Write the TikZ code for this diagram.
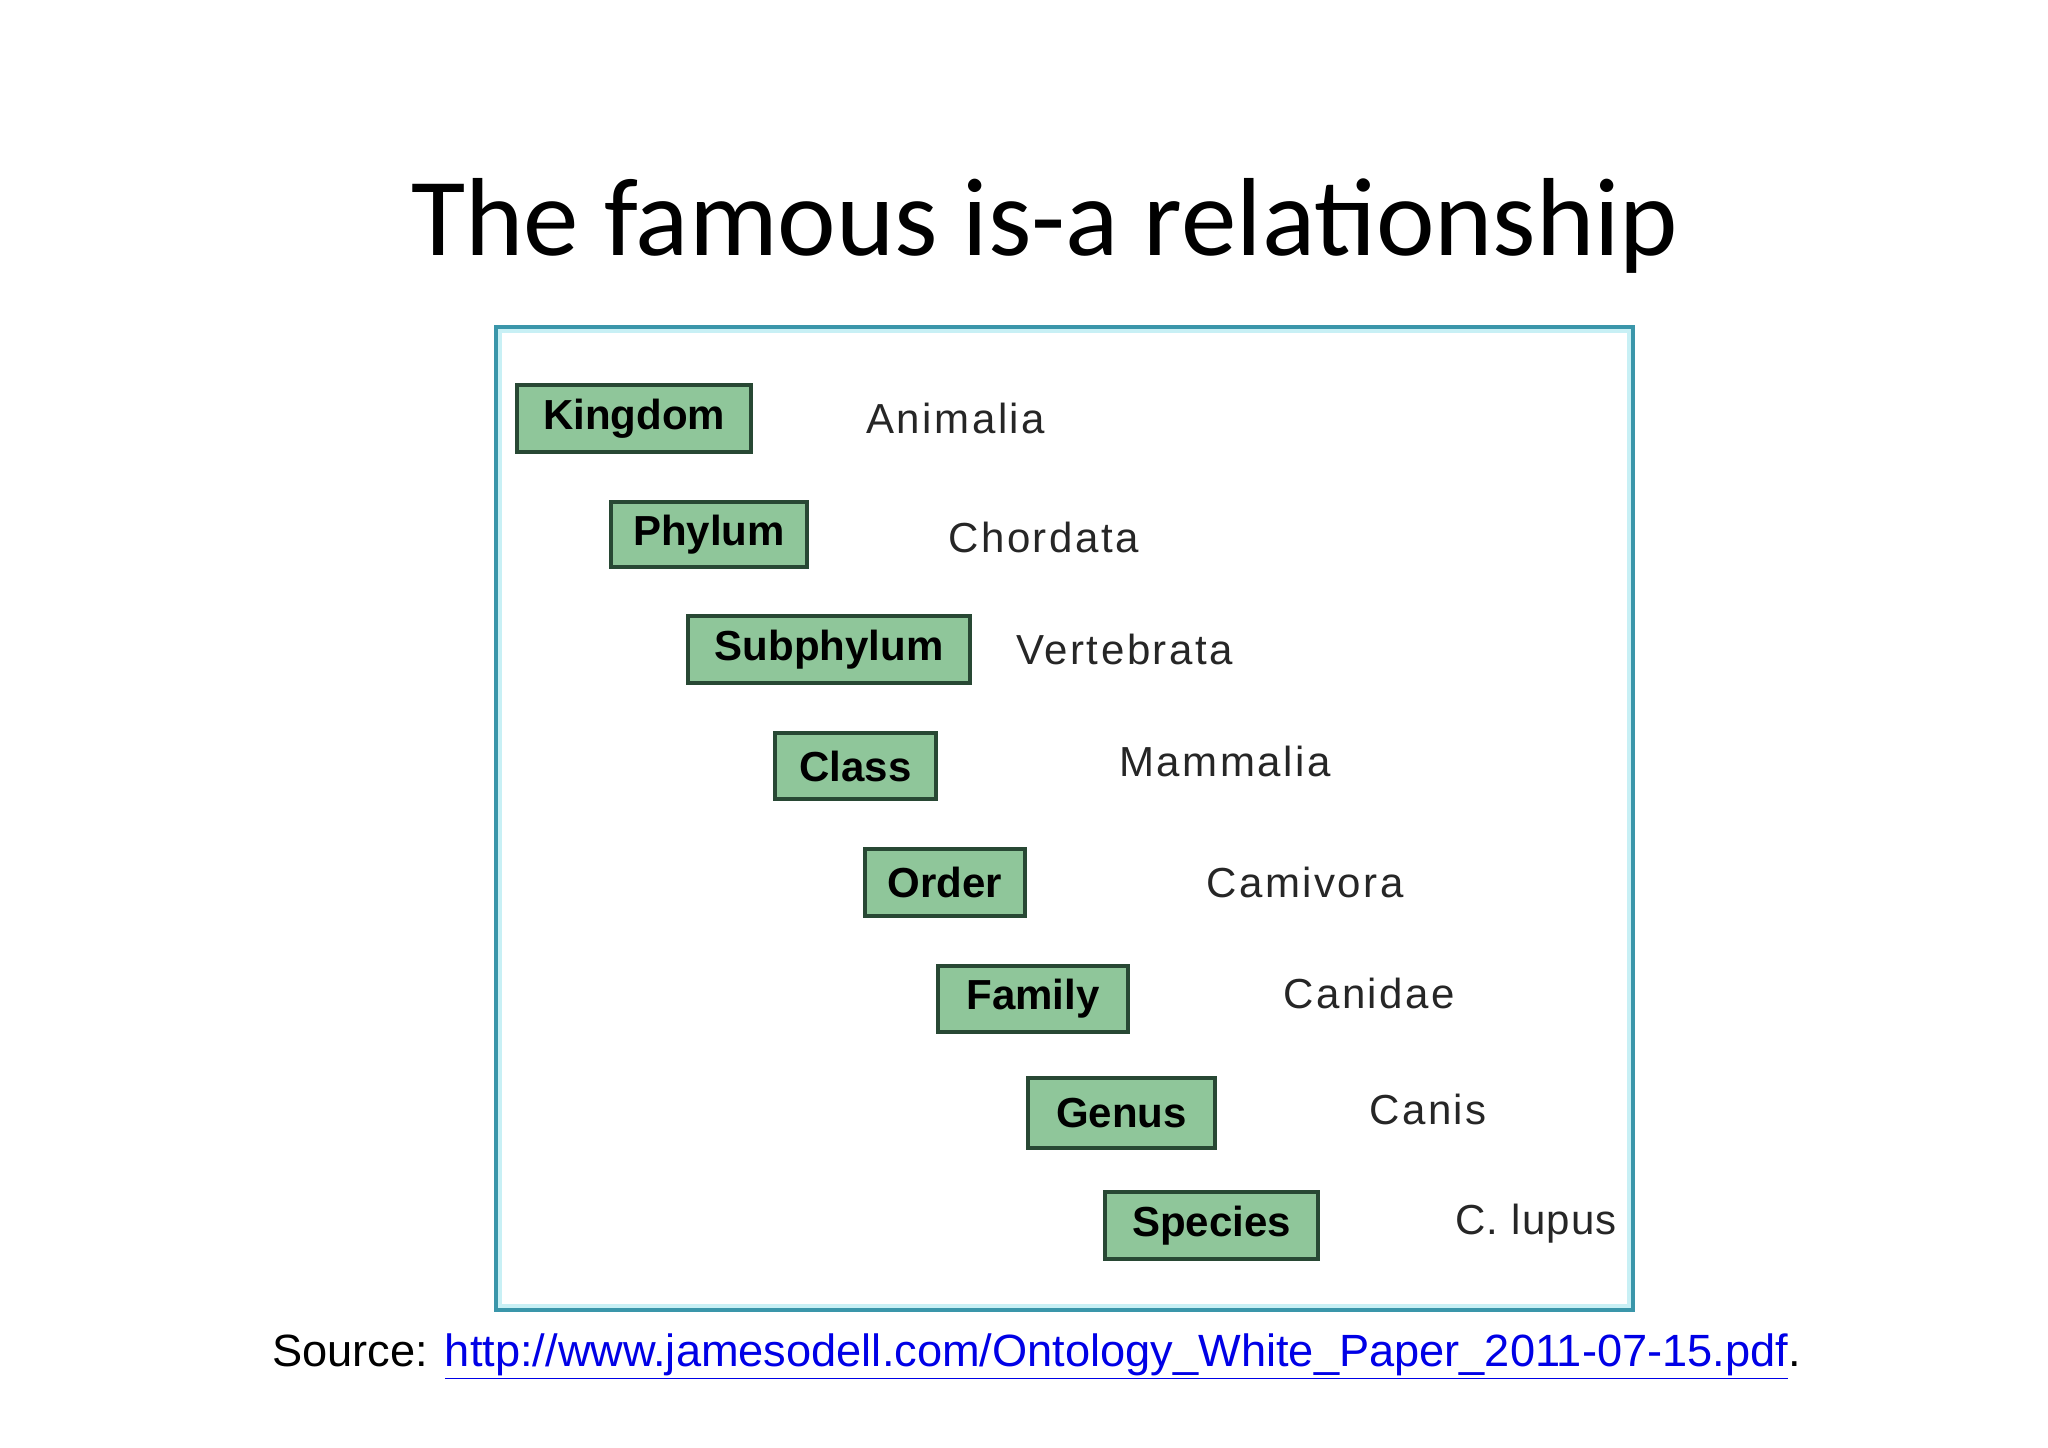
\documentclass[tikz,border=0pt]{standalone}
\usepackage{fontspec}
\setmainfont{Liberation Sans}
\newfontfamily\titlefont{Carlito}
\definecolor{boxgreen}{RGB}{143,198,154}
\definecolor{boxborder}{RGB}{40,72,52}
\definecolor{frameteal}{RGB}{58,150,170}
\definecolor{framelight}{RGB}{200,240,245}
\definecolor{linkblue}{RGB}{0,0,230}
\tikzset{
  taxbox/.style={draw=boxborder, line width=1.6pt, fill=boxgreen, inner sep=0pt,
    font=\bfseries\fontsize{21}{25}\selectfont, text=black},
  taxlabel/.style={anchor=west, inner sep=0pt, font=\fontsize{21}{25}\selectfont\addfontfeatures{LetterSpace=6}, text=black!85}
}
\begin{document}
\begin{tikzpicture}[x=0.5pt,y=-0.5pt]
\useasboundingbox[fill=white] (0,0) rectangle (2048,1447);
% title
\node[anchor=base, inner sep=0pt, font=\titlefont\fontsize{55.5}{60}\selectfont] (title) at (1045,255) {The famous is-a relationship};
% frame
\draw[framelight, line width=2pt] (500,331) rectangle (1629,1306);
\draw[frameteal, line width=1.6pt] (496,327) rectangle (1633,1310);
% boxes
\node[taxbox, minimum width=117pt, minimum height=33.5pt] (kingdom) at (634,418.5) {Kingdom};
\node[taxbox, minimum width=98pt, minimum height=32.5pt] (phylum) at (709,534.5) {Phylum};
\node[taxbox, minimum width=141pt, minimum height=33.5pt] (subphylum) at (829,649.5) {Subphylum};
\node[taxbox, minimum width=80.5pt, minimum height=33pt] (class) at (855.5,766) {Class};
\node[taxbox, minimum width=80pt, minimum height=33.5pt] (order) at (945,882.5) {Order};
\node[taxbox, minimum width=95pt, minimum height=33pt] (family) at (1033,999) {Family};
\node[taxbox, minimum width=93.5pt, minimum height=35pt] (genus) at (1121.5,1113) {Genus};
\node[taxbox, minimum width=106.5pt, minimum height=33.5pt] (species) at (1211.5,1225.5) {Species};
% labels
\node[taxlabel] (animalia) at (866,418) {Animalia};
\node[taxlabel] (chordata) at (948,537) {Chordata};
\node[taxlabel] (vertebrata) at (1016,649) {Vertebrata};
\node[taxlabel] (mammalia) at (1119,761) {Mammalia};
\node[taxlabel] (camivora) at (1206,882) {Camivora};
\node[taxlabel] (canidae) at (1283,993) {Canidae};
\node[taxlabel] (canis) at (1369,1109) {Canis};
\node[taxlabel, font=\fontsize{21}{25}\selectfont\addfontfeatures{LetterSpace=3}] (clupus) at (1455,1224) {C. lupus};
% source
\node[anchor=base west, inner sep=0pt, font=\fontsize{22.6}{27}\selectfont] (source) at (272,1366)
  {Source: \textcolor{linkblue}{\underline{http://www.jamesodell.com/Ontology\_White\_Paper\_2011-07-15.pdf}}.};
\end{tikzpicture}
\end{document}
